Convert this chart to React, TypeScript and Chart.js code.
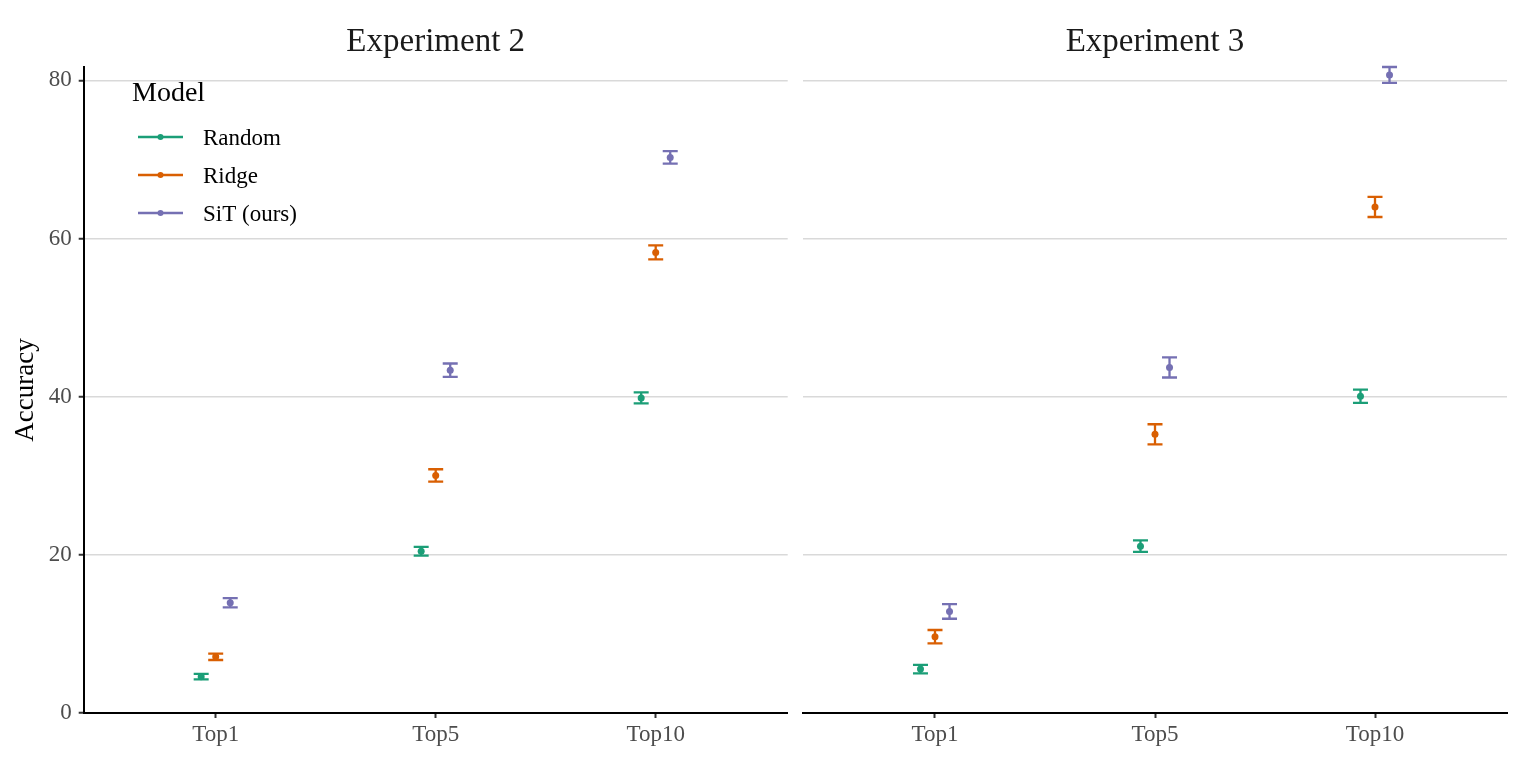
import React, { useEffect, useRef } from "react";
import { Chart, registerables } from "chart.js";

Chart.register(...registerables);

const CATEGORIES = ["Top1", "Top5", "Top10"];
const MODELS = ["Random", "Ridge", "SiT (ours)"];
const COLORS = ["#1B9E77", "#D95F02", "#7570B3"];
const Y_TICKS = [0, 20, 40, 60, 80];

const EXP2_RANDOM = [4.6, 20.45, 39.85];
const EXP2_RANDOM_ERR = [0.35, 0.55, 0.7];
const EXP2_RIDGE = [7.1, 30.05, 58.25];
const EXP2_RIDGE_ERR = [0.4, 0.78, 0.88];
const EXP2_SIT = [13.95, 43.35, 70.27];
const EXP2_SIT_ERR = [0.58, 0.85, 0.8];

const EXP3_RANDOM = [5.55, 21.1, 40.05];
const EXP3_RANDOM_ERR = [0.53, 0.73, 0.84];
const EXP3_RIDGE = [9.65, 35.25, 64.0];
const EXP3_RIDGE_ERR = [0.85, 1.27, 1.27];
const EXP3_SIT = [12.85, 43.7, 80.7];
const EXP3_SIT_ERR = [0.93, 1.27, 1.0];

const FONT = "'Liberation Serif', 'Times New Roman', serif";
const DODGE = 0.066;
const Y_MAX = 81.7;

const errorBarPlugin = {
  id: "errorBars",
  beforeDatasetsDraw(chart: any) {
    const ctx = chart.ctx;
    const xs = chart.scales.x;
    const ys = chart.scales.y;
    chart.data.datasets.forEach((ds: any) => {
      const errs: number[] = ds.errors;
      ds.data.forEach((pt: any, j: number) => {
        const x = xs.getPixelForValue(pt.x);
        const yl = ys.getPixelForValue(pt.y - errs[j]);
        const yh = ys.getPixelForValue(pt.y + errs[j]);
        ctx.save();
        ctx.strokeStyle = ds.backgroundColor;
        ctx.lineWidth = 2.3;
        ctx.beginPath();
        ctx.moveTo(x, yl);
        ctx.lineTo(x, yh);
        ctx.moveTo(x - 7.5, yl);
        ctx.lineTo(x + 7.5, yl);
        ctx.moveTo(x - 7.5, yh);
        ctx.lineTo(x + 7.5, yh);
        ctx.stroke();
        ctx.restore();
      });
    });
  },
};

const panelTitlePlugin = {
  id: "panelTitle",
  afterDraw(chart: any) {
    const opts = chart.options.plugins.panelTitle;
    if (!opts?.text) return;
    const ctx = chart.ctx;
    const a = chart.chartArea;
    ctx.save();
    ctx.fillStyle = "#1a1a1a";
    ctx.font = `33px ${FONT}`;
    ctx.textAlign = "center";
    ctx.textBaseline = "middle";
    ctx.fillText(opts.text, (a.left + a.right) / 2, 42);
    ctx.restore();
  },
};

const legendPlugin = {
  id: "customLegend",
  afterDraw(chart: any) {
    if (!chart.options.plugins.customLegend?.show) return;
    const ctx = chart.ctx;
    ctx.save();
    ctx.fillStyle = "#000";
    ctx.font = `28px ${FONT}`;
    ctx.textBaseline = "middle";
    ctx.textAlign = "left";
    ctx.fillText("Model", 132, 94);
    MODELS.forEach((m, i) => {
      const y = 137 + i * 38;
      ctx.strokeStyle = COLORS[i];
      ctx.lineWidth = 2.5;
      ctx.beginPath();
      ctx.moveTo(138, y);
      ctx.lineTo(183, y);
      ctx.stroke();
      ctx.fillStyle = COLORS[i];
      ctx.beginPath();
      ctx.arc(160.5, y, 3, 0, Math.PI * 2);
      ctx.fill();
      ctx.fillStyle = "#000";
      ctx.font = `23px ${FONT}`;
      ctx.fillText(m, 203, y + 1.5);
    });
    ctx.restore();
  },
};

function makeDatasets(values: number[][], errors: number[][]) {
  return values.map((vals, i) => ({
    label: MODELS[i],
    data: vals.map((v, j) => ({ x: j + 1 + (i - 1) * DODGE, y: v })),
    errors: errors[i],
    backgroundColor: COLORS[i],
    borderColor: COLORS[i],
    borderWidth: 0,
    pointRadius: 3.5,
    showLine: false,
  }));
}

function makeConfig(title: string, values: number[][], errors: number[][], isLeft: boolean): any {
  return {
    type: "scatter",
    data: { datasets: makeDatasets(values, errors) },
    plugins: [errorBarPlugin, legendPlugin, panelTitlePlugin],
    options: {
      animation: false,
      responsive: true,
      maintainAspectRatio: false,
      layout: { padding: { left: isLeft ? 0 : 8, right: isLeft ? 7.3 : 15, top: 67, bottom: 0 } },
      plugins: {
        legend: { display: false },
        tooltip: { enabled: false },
        title: { display: false },
        customLegend: { show: isLeft },
        panelTitle: { text: title },
      },
      scales: {
        x: {
          type: "linear",
          min: 0.4,
          max: 3.6,
          afterBuildTicks: (s: any) => {
            s.ticks = CATEGORIES.map((_, i) => ({ value: i + 1 }));
          },
          afterFit: (s: any) => {
            s.height = 48;
          },
          ticks: {
            callback: (v: number) => CATEGORIES[Math.round(v) - 1] ?? "",
            color: "#4D4D4D",
            font: { family: FONT, size: 23 },
            padding: 3,
            maxRotation: 0,
            autoSkip: false,
          },
          grid: { drawOnChartArea: false, drawTicks: true, tickLength: 5, tickColor: "#333", tickWidth: 2 },
          border: { display: true, color: "#000", width: 2 },
        },
        y: {
          min: 0,
          max: Y_MAX,
          afterBuildTicks: (s: any) => {
            s.ticks = Y_TICKS.map((v) => ({ value: v }));
          },
          afterFit: (s: any) => {
            s.width = isLeft ? 83.7 : 0;
          },
          title: {
            display: isLeft,
            text: "Accuracy",
            color: "#000",
            font: { family: FONT, size: 27 },
            padding: { top: 10, bottom: 0 },
          },
          ticks: {
            display: isLeft,
            color: "#4D4D4D",
            font: { family: FONT, size: 23 },
            padding: 7,
          },
          grid: {
            color: "#D9D9D9",
            lineWidth: 1.5,
            drawTicks: isLeft,
            tickLength: isLeft ? 5 : 0,
            tickColor: "#333",
            tickWidth: 2,
          },
          border: { display: isLeft, color: "#000", width: 2 },
        },
      },
    },
  };
}

function Panel(props: { title: string; values: number[][]; errors: number[][]; isLeft: boolean; left: number; width: number }) {
  const ref = useRef<HTMLCanvasElement | null>(null);
  useEffect(() => {
    if (!ref.current) return;
    const chart = new Chart(ref.current, makeConfig(props.title, props.values, props.errors, props.isLeft));
    return () => chart.destroy();
  }, []);
  return (
    <div style={{ position: "absolute", left: props.left, top: 0, width: props.width, height: 761 }}>
      <canvas ref={ref} />
    </div>
  );
}

export default function App() {
  return (
    <div style={{ position: "absolute", left: 0, top: 0, width: 1522, height: 761, background: "#fff" }}>
      <Panel
        title="Experiment 2"
        values={[EXP2_RANDOM, EXP2_RIDGE, EXP2_SIT]}
        errors={[EXP2_RANDOM_ERR, EXP2_RIDGE_ERR, EXP2_SIT_ERR]}
        isLeft={true}
        left={0}
        width={795}
      />
      <Panel
        title="Experiment 3"
        values={[EXP3_RANDOM, EXP3_RIDGE, EXP3_SIT]}
        errors={[EXP3_RANDOM_ERR, EXP3_RIDGE_ERR, EXP3_SIT_ERR]}
        isLeft={false}
        left={795}
        width={727}
      />
    </div>
  );
}
